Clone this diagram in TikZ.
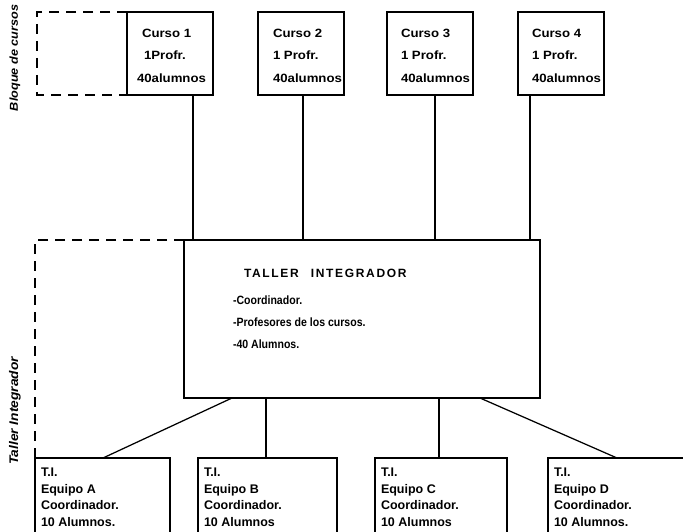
\documentclass[tikz,border=0pt]{standalone}
\usepackage{fontspec}
\setmainfont{Liberation Sans}
\newfontfamily\coursefont[FakeStretch=1.1]{Liberation Sans}
\newfontfamily\itemfont[FakeStretch=0.88]{Liberation Sans}
\newfontfamily\sidefont[FakeStretch=1.1]{Liberation Sans}

\begin{document}
\begin{tikzpicture}[x=1pt,y=-1pt,line width=1.25pt,
  every node/.style={inner sep=0pt, outer sep=0pt},
  box/.style={draw, rectangle, anchor=north west},
  course/.style={box, minimum width=86pt, minimum height=83pt},
  coursetext/.style={anchor=north west, align=left,
    font=\coursefont\bfseries\fontsize{12}{22.5}\selectfont},
  team/.style={box, minimum height=90pt},
  teamtext/.style={anchor=north west, align=left,
    font=\bfseries\fontsize{12.5}{16.5}\selectfont},
  titem/.style={anchor=base west, font=\itemfont\bfseries\fontsize{12}{14}\selectfont},
  dashedline/.style={dash pattern=on 10pt off 7pt},
  link/.style={line width=1.25pt}]

\useasboundingbox (0,0) rectangle (683,532);
\fill[white] (0,0) rectangle (683,532);
\clip (0,0) rectangle (683,532);

% Block of courses
\node[course] (c1) at (127,12) {};
\node[course] (c2) at (258,12) {};
\node[course] (c3) at (387,12) {};
\node[course] (c4) at (518,12) {};
\node[coursetext] (c1t) at ([shift={(10,17)}]c1.north west) {\hspace{5pt}Curso 1\\\hspace{7pt}1Profr.\\40alumnos};
\node[coursetext] (c2t) at ([shift={(15,17)}]c2.north west) {Curso 2\\1 Profr.\\40alumnos};
\node[coursetext] (c3t) at ([shift={(14,17)}]c3.north west) {Curso 3\\1 Profr.\\40alumnos};
\node[coursetext] (c4t) at ([shift={(14,17)}]c4.north west) {Curso 4\\1 Profr.\\40alumnos};

% Integrating workshop
\node[box, minimum width=356pt, minimum height=158pt] (ti) at (184,240) {};
\node[anchor=base west, font=\bfseries\fontsize{12}{14}\selectfont\addfontfeature{LetterSpace=14}]
  (tititle) at ([shift={(60,37)}]ti.north west) {TALLER\hspace{12pt}INTEGRADOR};
\node[titem] (ti1) at ([shift={(49,64)}]ti.north west) {-Coordinador.};
\node[titem] (ti2) at ([shift={(49,86)}]ti.north west) {-Profesores de los cursos.};
\node[titem] (ti3) at ([shift={(49,108)}]ti.north west) {-40 Alumnos.};

% Teams
\node[team, minimum width=135pt] (ta) at (35,458) {};
\node[team, minimum width=139pt] (tb) at (198,458) {};
\node[team, minimum width=132pt] (tc) at (375,458) {};
\node[team, minimum width=150pt] (td) at (548,458) {};
\node[teamtext] (tat) at ([shift={(6,10)}]ta.north west) {T.I.\\Equipo A\\Coordinador.\\10 Alumnos.};
\node[teamtext] (tbt) at ([shift={(6,10)}]tb.north west) {T.I.\\Equipo B\\Coordinador.\\10 Alumnos};
\node[teamtext] (tct) at ([shift={(6,10)}]tc.north west) {T.I.\\Equipo C\\Coordinador.\\10 Alumnos};
\node[teamtext] (tdt) at ([shift={(6,10)}]td.north west) {T.I.\\Equipo D\\Coordinador.\\10 Alumnos.};

% Dashed groupings
\coordinate (bq1) at (37,12);
\coordinate (bq2) at (37,95);
\draw[dashedline] (c1.north west) -- (bq1) -- (bq2) -- (c1.south west);
\coordinate (tg1) at (35,240);
\draw[dashedline] (ti.north west) -- (tg1) -- (ta.north west);

% Side labels
\node[rotate=90, font=\sidefont\bfseries\itshape\fontsize{11.5}{14}\selectfont] (lb1) at (15,58) {Bloque de cursos};
\node[rotate=90, font=\sidefont\bfseries\itshape\fontsize{12.5}{14}\selectfont] (lb2) at (15,411) {Taller Integrador};

% Courses to workshop
\coordinate (u1) at (193,0);
\coordinate (u2) at (303,0);
\coordinate (u3) at (435,0);
\coordinate (u4) at (530,0);
\draw[link] (c1.south -| u1) -- (ti.north -| u1);
\draw[link] (c2.south -| u2) -- (ti.north -| u2);
\draw[link] (c3.south -| u3) -- (ti.north -| u3);
\draw[link] (c4.south -| u4) -- (ti.north -| u4);

% Workshop to teams
\coordinate (da) at (232,0);
\coordinate (ea) at (103,0);
\coordinate (db) at (266,0);
\coordinate (dc) at (439,0);
\coordinate (dd) at (480,0);
\coordinate (ed) at (617,0);
\draw[link] (ti.south -| da) -- (ta.north -| ea);
\draw[link] (ti.south -| db) -- (tb.north -| db);
\draw[link] (ti.south -| dc) -- (tc.north -| dc);
\draw[link] (ti.south -| dd) -- (td.north -| ed);
\end{tikzpicture}
\end{document}
